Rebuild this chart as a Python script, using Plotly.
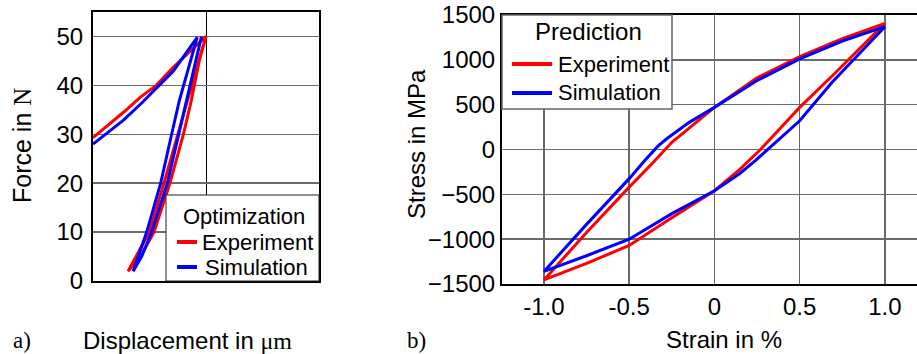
import plotly.graph_objects as go

# ---------------- Panel a) : force vs displacement (arbitrary displacement units) ----------------
a_exp_disp = [0.0, 0.27, 0.42, 0.56, 0.71, 1.0, 0.94, 0.87, 0.80, 0.681, 0.54, 0.42, 0.31,
              0.37, 0.498, 0.628, 0.75, 0.83, 0.96, 1.0]
a_exp_force = [29.3, 34.5, 37.6, 40.0, 43.7, 50.0, 45.0, 36.9, 30.0, 20.0, 10.0, 5.0, 2.0,
               4.5, 10.0, 20.0, 30.0, 36.9, 47.0, 50.0]

a_sim_disp = [0.0, 0.27, 0.44, 0.71, 0.922, 0.764, 0.696, 0.599, 0.475, 0.40, 0.355,
              0.43, 0.519, 0.658, 0.76, 0.83, 0.96]
a_sim_force = [28.0, 32.9, 36.6, 42.9, 49.8, 36.9, 30.0, 20.0, 10.0, 5.0, 2.0,
               5.0, 10.0, 20.0, 30.0, 36.9, 50.0]

a_yticks = [0, 10, 20, 30, 40, 50]

# ---------------- Panel b) : stress vs strain ----------------
b_exp_strain = [1.0, 0.75, 0.5, 0.25, 0.0, -0.11, -0.25, -0.35, -0.5, -0.75, -1.0,
                -0.75, -0.5, -0.25, 0.0, 0.147, 0.27, 0.5, 0.69, 1.0]
b_exp_stress = [1407, 1235, 1035, 800, 470, 300, 80, -125, -420, -925, -1455,
                -1270, -1070, -760, -460, -225, 0, 470, 820, 1407]

b_sim_strain = [1.0, 0.75, 0.5, 0.25, 0.0, -0.15, -0.28, -0.33, -0.41, -0.5, -0.75, -1.0,
                -0.75, -0.5, -0.25, 0.0, 0.147, 0.24, 0.30, 0.4, 0.5, 0.69, 1.0]
b_sim_stress = [1370, 1210, 1010, 770, 470, 300, 120, 40, -125, -325, -835, -1360,
                -1185, -1000, -715, -460, -270, -125, -20, 150, 320, 750, 1370]

b_xticks = [-1.0, -0.5, 0.0, 0.5, 1.0]
b_xticklabels = ["-1.0", "-0.5", "0", "0.5", "1.0"]
b_yticks = [-1500, -1000, -500, 0, 500, 1000, 1500]

series_names = ["Experiment", "Simulation"]
legend_titles = ["Optimization", "Prediction"]

RED = "#ff0000"
BLUE = "#0000ff"
COLORS = [RED, BLUE]
FONT = "Liberation Sans, Arial, sans-serif"
SERIF = "Liberation Serif"
W, H = 917, 354


def px(x):
    return x / W


def py(y):
    return 1 - y / H


fig = go.Figure()

fig.add_trace(go.Scatter(x=a_exp_disp, y=a_exp_force, mode="lines", name=series_names[0],
                         line=dict(color=RED, width=3), xaxis="x", yaxis="y", showlegend=False))
fig.add_trace(go.Scatter(x=a_sim_disp, y=a_sim_force, mode="lines", name=series_names[1],
                         line=dict(color=BLUE, width=3), xaxis="x", yaxis="y", showlegend=False))
fig.add_trace(go.Scatter(x=b_exp_strain, y=b_exp_stress, mode="lines", name=series_names[0],
                         line=dict(color=RED, width=3), xaxis="x2", yaxis="y2", showlegend=False))
fig.add_trace(go.Scatter(x=b_sim_strain, y=b_sim_stress, mode="lines", name=series_names[1],
                         line=dict(color=BLUE, width=3), xaxis="x2", yaxis="y2", showlegend=False))

GRID = "#6a6a6a"

fig.update_layout(
    template="none",
    width=W, height=H, autosize=False,
    margin=dict(l=0, r=0, t=0, b=0, autoexpand=False),
    paper_bgcolor="white", plot_bgcolor="white",
    font=dict(family=FONT, size=24, color="black"),
    showlegend=False,
    xaxis=dict(domain=[px(93), px(319)], range=[0, 2], dtick=1, tick0=0,
               showticklabels=False, ticks="", showgrid=True, gridcolor="black", gridwidth=1,
               zeroline=False, showline=True, linecolor="black", linewidth=2, mirror=True,
               anchor="y", fixedrange=True, automargin=False),
    yaxis=dict(domain=[py(281), py(12)], range=[0, 55], tickvals=a_yticks,
               ticks="", ticklabelstandoff=3, showgrid=True, gridcolor=GRID, gridwidth=1.5,
               zeroline=False, showline=True, linecolor="black", linewidth=2, mirror=True,
               anchor="x", fixedrange=True, tickfont=dict(size=24), automargin=False),
    xaxis2=dict(domain=[px(502), 1.0], range=[-1.246, 1.188], tickvals=b_xticks,
                ticktext=b_xticklabels, ticks="", ticklabelstandoff=0, showgrid=True,
                gridcolor=GRID, gridwidth=1.5, zeroline=False, showline=True,
                linecolor="black", linewidth=2, mirror=True, anchor="y2", fixedrange=True,
                tickfont=dict(size=24), automargin=False),
    yaxis2=dict(domain=[py(284), py(15)], range=[-1500, 1500], tickvals=b_yticks,
                ticks="", ticklabelstandoff=0, showgrid=True, gridcolor=GRID, gridwidth=1.5,
                zeroline=False, showline=True, linecolor="black", linewidth=2, mirror=False,
                anchor="x2", fixedrange=True, tickfont=dict(size=24), automargin=False),
)

shapes = []
ann = []

# ---- legend boxes (drawn as paper-anchored boxes, samples and labels) ----
legend_specs = [
    dict(box=(166, 319, 195, 281), border="#222222", bw=1,
         title=(244, 217), tsize=22, sx=(177, 197), rows=(242, 267), tx=(200, 203)),
    dict(box=(502, 672, 15, 109), border="#666666", bw=1.5,
         title=(588, 31), tsize=24, sx=(512, 552), rows=(64, 93), tx=(556, 556)),
]
for spec, title in zip(legend_specs, legend_titles):
    x0, x1, y0, y1 = spec["box"]
    shapes.append(dict(type="rect", xref="paper", yref="paper", layer="above",
                       x0=px(x0), x1=px(x1), y0=py(y1), y1=py(y0),
                       fillcolor="white", line=dict(color=spec["border"], width=spec["bw"])))
    ann.append(dict(text=title, x=px(spec["title"][0]), y=py(spec["title"][1]),
                    xanchor="center", font=dict(size=spec["tsize"])))
    for name, col, ry, tx in zip(series_names, COLORS, spec["rows"], spec["tx"]):
        shapes.append(dict(type="line", xref="paper", yref="paper", layer="above",
                           x0=px(spec["sx"][0]), x1=px(spec["sx"][1]), y0=py(ry), y1=py(ry),
                           line=dict(color=col, width=4)))
        ann.append(dict(text=name, x=px(tx), y=py(ry), xanchor="left", font=dict(size=22)))

ann += [
    dict(text=f"Force in <span style='font-family:{SERIF}'>N</span>", x=px(22), y=py(146),
         textangle=-90, font=dict(size=25)),
    dict(text="Stress in MPa", x=px(416), y=py(144), textangle=-90, font=dict(size=24)),
    dict(text=f"Displacement in <span style='font-family:{SERIF}'>\u03bcm</span>",
         x=px(187), y=py(340), font=dict(size=24)),
    dict(text="Strain in %", x=px(724), y=py(339), font=dict(size=24)),
    dict(text=f"<span style='font-family:{SERIF}'>a)</span>", x=px(22), y=py(340),
         font=dict(size=23)),
    dict(text=f"<span style='font-family:{SERIF}'>b)</span>", x=px(416), y=py(340),
         font=dict(size=23)),
]
for a in ann:
    a.update(xref="paper", yref="paper", showarrow=False, yanchor="middle")
    a.setdefault("xanchor", "center")

fig.update_layout(shapes=shapes, annotations=ann)

fig.write_html("out.html",
               config={"displayModeBar": False, "staticPlot": True},
               post_script="document.body.style.margin='0';document.body.style.overflow='hidden';")
